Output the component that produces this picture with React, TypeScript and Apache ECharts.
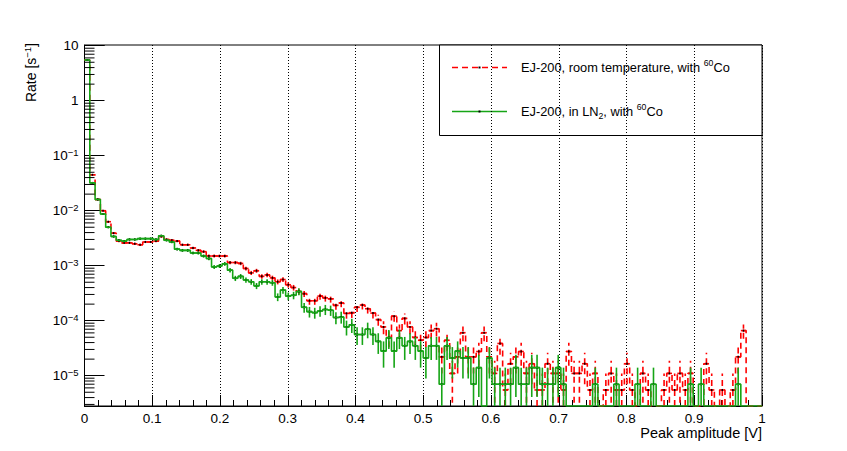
import React, { useEffect, useRef } from "react";
import * as echarts from "echarts";

const FONT = "'Liberation Sans', Arial, Helvetica, sans-serif";

// 128 bins between 0 and 1 V
const binCount = 128;
const xRange = [0, 1];
const yRange = [2.81e-6, 10.3];

// Rate [1/s] per bin: EJ-200 at room temperature with 60Co
const rateRoomTemp = [
  5.5, 0.045, 0.016, 0.010, 0.0063, 0.0039, 0.0028, 0.0026, 0.0026, 0.0025,
  0.0024, 0.0027, 0.0027, 0.0028, 0.0034, 0.0030, 0.0029, 0.0028, 0.0024, 0.0024,
  0.0021, 0.0019, 0.0018, 0.0015, 0.0015, 0.0015, 0.0015, 0.00114, 0.00114, 0.0011,
  0.00089, 0.00074, 0.00081, 0.00064, 0.00068, 0.0006, 0.00051, 0.00056, 0.00045, 0.0004,
  0.00034, 0.00031, 0.00023, 0.00023, 0.00028, 0.00026, 0.00025, 0.00019, 0.00021, 0.000136,
  0.00014, 0.000175, 1.925e-4, 1.65e-4, 1.375e-4, 1.045e-4, 7.7e-5, 4.95e-5, 1.21e-4, 6.6e-5,
  1.1e-4, 7.7e-5, 4.95e-5, 4.4e-5, 4.95e-5, 6.6e-5, 7.15e-5, 2.2e-5, 4.4e-5, 1.1e-5,
  2.2e-5, 6.05e-5, 2.2e-5, 2.2e-5, 2.75e-5, 6.05e-5, 2.2e-5, 1.1e-5, 3.85e-5, 5.5e-6,
  1.65e-5, 2.2e-5, 2.75e-5, 1.1e-5, 1.65e-5, 5.5e-6, 5.5e-6, 1.65e-5, 1.1e-5, 1.1e-5,
  5.5e-6, 2.75e-5, 1.1e-5, 1.1e-5, 1.65e-5, 5.5e-6, 1.1e-5, 0, 5.5e-6, 1.1e-5,
  5.5e-6, 5.5e-6, 1.65e-5, 5.5e-6, 0, 1.1e-5, 5.5e-6, 0, 0, 5.5e-6,
  1.1e-5, 5.5e-6, 1.1e-5, 5.5e-6, 1.1e-5, 0, 0, 1.65e-5, 5.5e-6, 0,
  5.5e-6, 0, 5.5e-6, 2.2e-5, 6.6e-5, 0, 0, 0,
];

// Rate [1/s] per bin: EJ-200 in LN2 with 60Co
const rateLN2 = [
  5.5, 0.032, 0.016, 0.0087, 0.0050, 0.0034, 0.0029, 0.0028, 0.0030, 0.0030,
  0.0031, 0.0031, 0.0031, 0.0030, 0.0035, 0.0029, 0.0027, 0.0020, 0.0019, 0.0019,
  0.0017, 0.0017, 0.0015, 0.00135, 0.00095, 0.00099, 0.00108, 0.00083, 0.00059, 0.00064,
  0.00055, 0.00051, 0.00043, 0.00051, 0.00051, 0.00049, 0.00027, 0.00036, 0.00028, 0.00029,
  0.00034, 0.000175, 0.000146, 0.00014, 0.00015, 0.00016, 0.000155, 0.000114, 0.000117, 7.7e-5,
  8.4e-5, 5.6e-5, 5.6e-5, 7e-5, 5.6e-5, 4.2e-5, 2.8e-5, 4.9e-5, 2.8e-5, 4.9e-5,
  3.5e-5, 4.2e-5, 3.5e-5, 2.8e-5, 2.1e-5, 3.5e-5, 3.5e-5, 7e-6, 3.5e-5, 2.1e-5,
  2.8e-5, 2.1e-5, 2.1e-5, 7e-6, 1.4e-5, 0, 2.1e-5, 7e-6, 7e-6, 7e-6,
  7e-6, 1.4e-5, 7e-6, 7e-6, 1.4e-5, 1.4e-5, 7e-6, 7e-6, 7e-6, 1.4e-5,
  7e-6, 0, 0, 0, 0, 0, 7e-6, 0, 0, 0,
  7e-6, 0, 0, 0, 7e-6, 0, 0, 7e-6, 0, 0,
  0, 0, 0, 0, 7e-6, 0, 7e-6, 0, 0, 0,
  0, 0, 0, 7e-6, 0, 0, 0, 0,
];

// rate equivalent of one count (for the sqrt(N) error bars)
const unitRoomTemp = 5.5e-6;
const unitLN2 = 7e-6;

const xTickLabels = ["0", "0.1", "0.2", "0.3", "0.4", "0.5", "0.6", "0.7", "0.8", "0.9", "1"];
const yDecadeExponents = [-5, -4, -3, -2, -1, 0, 1];
const yMinorMultipliers = [2, 3, 4, 5, 6, 7, 8, 9];

const legendLabels = [
  "{n|EJ-200, room temperature, with }{sup|60}{n|Co}",
  "{n|EJ-200, in LN}{sub|2}{n|, with }{sup|60}{n|Co}",
];

const RED = "#ff0000";
const GREEN = "#16a516";

const binWidth = (xRange[1] - xRange[0]) / binCount;

function stepData(vals: number[]) {
  const pts = vals.map((v, i) => [xRange[0] + i * binWidth, Math.max(v, yRange[0])]);
  pts.push([xRange[1], Math.max(vals[vals.length - 1], yRange[0])]);
  return pts;
}

function errorData(vals: number[], unit: number) {
  const out: number[][] = [];
  vals.forEach((v, i) => {
    if (v > 0) out.push([xRange[0] + (i + 0.5) * binWidth, v, Math.sqrt(v * unit)]);
  });
  return out;
}

function errorSeries(vals: number[], unit: number, color: string, dash: number[] | null, z: number) {
  return {
    type: "custom",
    z,
    clip: true,
    silent: true,
    encode: { x: 0, y: 1 },
    data: errorData(vals, unit),
    renderItem: (params: any, api: any) => {
      const xc = api.value(0);
      const v = api.value(1);
      const e = api.value(2);
      const lo = Math.max(v - e, yRange[0]);
      const hi = v + e;
      const pLo = api.coord([xc, lo]);
      const pHi = api.coord([xc, hi]);
      const pL = api.coord([xc - binWidth / 2, v]);
      const pR = api.coord([xc + binWidth / 2, v]);
      return {
        type: "group",
        children: [
          {
            type: "line",
            shape: { x1: pLo[0], y1: pLo[1], x2: pHi[0], y2: pHi[1] },
            style: { stroke: color, lineWidth: 1.6, lineDash: dash || undefined },
          },
          {
            type: "line",
            shape: { x1: pL[0], y1: pL[1], x2: pR[0], y2: pR[1] },
            style: { stroke: color, lineWidth: 1.6 },
          },
          {
            type: "rect",
            shape: { x: pL[0] + (pR[0] - pL[0]) / 2 - 0.75, y: pL[1] - 1, width: 1.5, height: 2 },
            style: { fill: "#000" },
          },
        ],
      };
    },
  };
}

const minorTickValues: number[] = [];
for (let e = -6; e <= 0; e++) {
  yMinorMultipliers.forEach((m) => {
    const v = m * Math.pow(10, e);
    if (v >= yRange[0] && v <= yRange[1]) minorTickValues.push(v);
  });
}

export default function App() {
  const ref = useRef<HTMLDivElement>(null);
  useEffect(() => {
    if (!ref.current) return;
    const chart = echarts.init(ref.current, null, { renderer: "svg" });
    const richText = {
      n: { fontSize: 12.8, fontFamily: FONT, color: "#000", lineHeight: 18 },
      sup: { fontSize: 8.7, fontFamily: FONT, color: "#000", lineHeight: 10, verticalAlign: "top" },
      sub: { fontSize: 8.7, fontFamily: FONT, color: "#000", lineHeight: 10, verticalAlign: "bottom" },
    };
    const option: any = {
      animation: false,
      backgroundColor: "#fff",
      grid: {
        left: 84.5,
        right: 85,
        top: 45,
        bottom: 45,
        show: true,
        borderColor: "#000",
        borderWidth: 1,
        backgroundColor: "transparent",
      },
      xAxis: {
        type: "value",
        min: xRange[0],
        max: xRange[1],
        interval: 0.1,
        axisLine: { show: true, onZero: false, lineStyle: { color: "#000", width: 1 } },
        axisTick: { show: true, inside: true, length: 11, lineStyle: { color: "#000" } },
        minorTick: { show: true, splitNumber: 5, length: 6, lineStyle: { color: "#000" } },
        splitLine: { show: true, lineStyle: { color: "#000", width: 1, type: [1, 2] } },
        axisLabel: {
          margin: 5,
          fontSize: 13.5,
          lineHeight: 14,
          fontFamily: FONT,
          color: "#000",
          formatter: (v: number) => xTickLabels[Math.round(v * 10)] ?? "",
        },
      },
      yAxis: {
        type: "log",
        logBase: 10,
        min: yRange[0],
        max: yRange[1],
        splitNumber: 10,
        axisLine: { show: true, lineStyle: { color: "#000", width: 1 } },
        axisTick: { show: true, inside: true, length: 20, lineStyle: { color: "#000" } },
        splitLine: { show: false },
        axisLabel: {
          margin: 6,
          color: "#000",
          formatter: (v: number) => {
            const e = Math.log10(v);
            const r = Math.round(e);
            if (Math.abs(e - r) > 1e-6 || !yDecadeExponents.includes(r)) return "";
            if (r === 1) return "{b|10}";
            if (r === 0) return "{b|1}";
            return "{b|10}{s|" + (r < 0 ? "\u2212" : "") + Math.abs(r) + "}";
          },
          rich: {
            b: { fontSize: 13.5, fontFamily: FONT, color: "#000", lineHeight: 16 },
            s: { fontSize: 9.5, fontFamily: FONT, color: "#000", lineHeight: 9, verticalAlign: "top" },
          },
        },
      },
      series: [
        {
          type: "custom",
          silent: true,
          z: 5,
          encode: { x: 0, y: 1 },
          data: minorTickValues.map((v) => [xRange[0], v]),
          renderItem: (params: any, api: any) => {
            const p = api.coord([api.value(0), api.value(1)]);
            return {
              type: "line",
              shape: { x1: p[0], y1: p[1], x2: p[0] + 10, y2: p[1] },
              style: { stroke: "#000", lineWidth: 1 },
            };
          },
        },
        {
          type: "line",
          step: "end",
          z: 2,
          silent: true,
          symbol: "none",
          showSymbol: false,
          clip: true,
          data: stepData(rateRoomTemp),
          lineStyle: { color: RED, width: 1.6, type: [6, 4] },
        },
        errorSeries(rateRoomTemp, unitRoomTemp, RED, [6, 4], 3),
        {
          type: "line",
          step: "end",
          z: 4,
          silent: true,
          symbol: "none",
          showSymbol: false,
          clip: true,
          data: stepData(rateLN2),
          lineStyle: { color: GREEN, width: 1.6, type: "solid" },
        },
        errorSeries(rateLN2, unitLN2, GREEN, null, 4),
      ],
      graphic: [
        {
          type: "text",
          x: 31,
          y: 43,
          rotation: Math.PI / 2,
          style: {
            text: "{n|Rate [s}{sup|\u22121}{n|]}",
            align: "right",
            verticalAlign: "middle",
            rich: {
              n: { fontSize: 14, fontFamily: FONT, color: "#000", lineHeight: 18 },
              sup: { fontSize: 9.5, fontFamily: FONT, color: "#000", lineHeight: 10, verticalAlign: "top" },
            },
          },
        },
        {
          type: "text",
          x: 762,
          y: 433,
          style: {
            text: "Peak amplitude [V]",
            align: "right",
            verticalAlign: "middle",
            fontSize: 14.5,
            lineHeight: 15,
            fontFamily: FONT,
            fill: "#000",
          },
        },
        {
          type: "group",
          z: 100,
          children: [
            {
              type: "rect",
              shape: { x: 439.5, y: 45, width: 322.5, height: 90.5 },
              style: { fill: "#fff", stroke: "#000", lineWidth: 1 },
            },
            {
              type: "line",
              shape: { x1: 452, y1: 67.5, x2: 507, y2: 67.5 },
              style: { stroke: RED, lineWidth: 1.6, lineDash: [6, 4] },
            },
            {
              type: "rect",
              shape: { x: 478.5, y: 66.5, width: 2, height: 2 },
              style: { fill: "#000" },
            },
            {
              type: "line",
              shape: { x1: 452, y1: 111.5, x2: 507, y2: 111.5 },
              style: { stroke: GREEN, lineWidth: 1.6 },
            },
            {
              type: "rect",
              shape: { x: 478.5, y: 110.5, width: 2, height: 2 },
              style: { fill: "#000" },
            },
            {
              type: "text",
              x: 521,
              y: 67.5,
              style: { text: legendLabels[0], verticalAlign: "middle", align: "left", rich: richText },
            },
            {
              type: "text",
              x: 521,
              y: 111.5,
              style: { text: legendLabels[1], verticalAlign: "middle", align: "left", rich: richText },
            },
          ],
        },
      ],
    };
    chart.setOption(option);
    return () => chart.dispose();
  }, []);
  return (
    <div
      ref={ref}
      style={{ position: "absolute", left: 0, top: 0, width: 847, height: 451, background: "#fff" }}
    />
  );
}
